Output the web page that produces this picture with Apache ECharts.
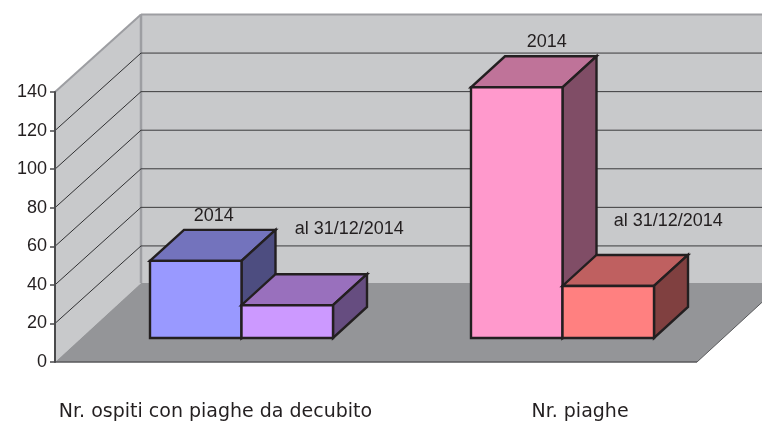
<!DOCTYPE html>
<html>
<head>
<meta charset="utf-8">
<style>html,body{margin:0;padding:0;background:#fff}#c{width:762px;height:422px}</style>
<script src="https://cdn.jsdelivr.net/npm/echarts@6/dist/echarts.min.js"></script>
</head>
<body>
<div id="c"></div>
<script>
const categories = ['Nr. ospiti con piaghe da decubito', 'Nr. piaghe'];
const yTicks = [0, 20, 40, 60, 80, 100, 120, 140];
const seriesNames = ['2014', 'al 31/12/2014'];
const values2014 = [40, 130];
const valuesAl = [17, 27];

// Label offsets from the bar's front-top-centre corner, as placed in the original
const labelShift2014 = [[18, -45], [30, -45]];
const labelShiftAl = [[62, -76], [60, -65]];

const wallDepth = [86, -77.5];
const floorDepthY = -79;
const barDepth = [34, -31];
const barStart = [26, -24];
const barWidth = 91.5;
const ink = '#231f20';

const colors2014 = [
  { front: '#9999ff', top: '#7373bd', side: '#4d4d80' },
  { front: '#ff99cc', top: '#bf7399', side: '#804d66' }
];
const colorsAl = [
  { front: '#cc99ff', top: '#9970bd', side: '#664d80' },
  { front: '#ff8080', top: '#bf6060', side: '#804040' }
];

const textFont = '"Liberation Sans", Arial, sans-serif';
const catFont = '"DejaVu Sans", sans-serif';

function poly(points, fill, stroke, lineWidth) {
  return {
    type: 'polygon',
    shape: { points: points },
    style: { fill: fill, stroke: stroke || 'none', lineWidth: lineWidth || 0, lineJoin: 'miter' }
  };
}
function seg(x1, y1, x2, y2, stroke, lineWidth) {
  return {
    type: 'line',
    shape: { x1: x1, y1: y1, x2: x2, y2: y2 },
    style: { stroke: stroke, lineWidth: lineWidth }
  };
}

function renderWalls(params, api) {
  const cs = params.coordSys;
  const L = cs.x, R = cs.x + cs.width, T = cs.y, B = cs.y + cs.height;
  const dx = wallDepth[0], dy = wallDepth[1];
  const fy = B + floorDepthY;
  const wall = '#c8c9cb', floor = '#949598', edge = '#9d9ea2';
  return {
    type: 'group',
    children: [
      poly([[L + dx, T + dy], [R + dx, T + dy], [R + dx, fy], [L + dx, fy]], wall),
      poly([[L, T], [L + dx, T + dy], [L + dx, fy], [L, B]], wall),
      poly([[L, B], [L + dx, fy], [R + dx, fy], [R, B]], floor),
      seg(L + dx, T + dy, L + dx, fy, edge, 2.5),
      seg(L, T, L + dx, T + dy, edge, 2),
      seg(L + dx, T + dy, R + dx, T + dy, edge, 2),
      seg(L, B, R, B, '#58595b', 1.5),
      seg(R, B, R + dx, fy, '#58595b', 1)
    ]
  };
}

function renderGrid(params, api) {
  const cs = params.coordSys;
  const y = api.coord([0, api.value(1)])[1];
  const L = cs.x, R = cs.x + cs.width;
  const dx = wallDepth[0], dy = wallDepth[1];
  const yb = y + dy;
  return {
    type: 'group',
    children: [
      seg(L, y, L + dx, yb, '#1f1f21', 0.9),
      seg(L + dx, yb, R + dx, yb, '#3a3a3c', 1)
    ]
  };
}

function makeBar(colors, shifts, xShift, name) {
  return function (params, api) {
    const i = api.value(0);
    const base = api.coord([i, 0]);
    const top = api.coord([i, api.value(1)]);
    const x0 = base[0] + barStart[0] + xShift * barWidth;
    const x1 = x0 + barWidth;
    const yb = base[1] + barStart[1];
    const yt = top[1] + barStart[1];
    const dx = barDepth[0], dy = barDepth[1];
    const c = colors[i];
    const s = shifts[i];
    const lw = 2.4;
    return {
      type: 'group',
      children: [
        poly([[x0, yt], [x1, yt], [x1 + dx, yt + dy], [x0 + dx, yt + dy]], c.top, ink, lw),
        poly([[x1, yt], [x1 + dx, yt + dy], [x1 + dx, yb + dy], [x1, yb]], c.side, ink, lw),
        poly([[x0, yt], [x1, yt], [x1, yb], [x0, yb]], c.front, ink, lw),
        {
          type: 'text',
          style: {
            x: (x0 + x1) / 2 + s[0], y: yt + s[1], text: name,
            fill: '#231f20', font: '400 18px ' + textFont,
            align: 'center', verticalAlign: 'middle'
          }
        }
      ]
    };
  };
}

const chart = echarts.init(document.getElementById('c'), null, { renderer: 'canvas' });
chart.setOption({
  animation: false,
  backgroundColor: '#ffffff',
  grid: { left: 55, top: 92, width: 642, height: 270, containLabel: false },
  xAxis: {
    type: 'category',
    data: categories,
    axisLine: { show: false },
    axisTick: { show: false },
    axisLabel: {
      interval: 0,
      margin: 41,
      hideOverlap: false,
      fontFamily: catFont,
      fontSize: 19,
      color: '#231f20',
      formatter: function (v, i) { return i === 1 ? '{far|' + v + '}' : v; },
      rich: { far: { padding: [0, 0, 0, 87], fontFamily: catFont, fontSize: 19, color: '#231f20' } }
    }
  },
  yAxis: {
    type: 'value',
    min: 0,
    max: 140,
    interval: 20,
    z: 5,
    axisLine: { show: true, lineStyle: { color: '#4a4a4c', width: 2 } },
    axisTick: { show: true, length: 5, lineStyle: { color: '#4a4a4c', width: 1.5 } },
    splitLine: { show: false },
    axisLabel: {
      margin: 8,
      fontFamily: textFont,
      fontSize: 18,
      color: '#231f20',
      formatter: function (v) { return yTicks.indexOf(v) >= 0 ? String(v) : ''; }
    }
  },
  series: [
    { type: 'custom', silent: true, z: 1, data: [[0, 0]], encode: { x: 0, y: 1 }, renderItem: renderWalls },
    { type: 'custom', silent: true, z: 2, data: yTicks.slice(1, -1).map(t => [0, t]), encode: { x: 0, y: 1 }, renderItem: renderGrid },
    { type: 'custom', name: seriesNames[0], z: 3, data: values2014.map((v, i) => [i, v]), encode: { x: 0, y: 1 }, renderItem: makeBar(colors2014, labelShift2014, -1, seriesNames[0]) },
    { type: 'custom', name: seriesNames[1], z: 4, data: valuesAl.map((v, i) => [i, v]), encode: { x: 0, y: 1 }, renderItem: makeBar(colorsAl, labelShiftAl, 0, seriesNames[1]) }
  ]
});
</script>
</body>
</html>
